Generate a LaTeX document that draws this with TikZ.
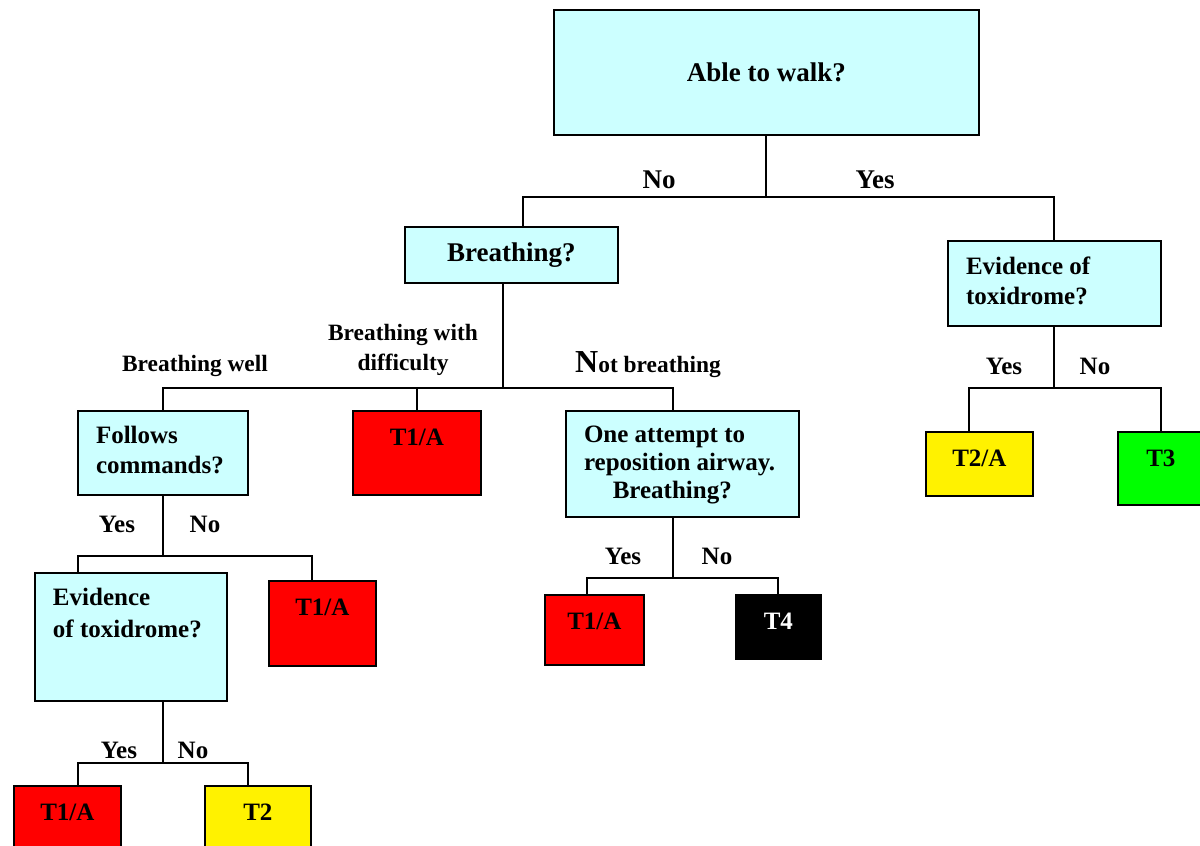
\documentclass[tikz,border=0pt]{standalone}
\usepackage{fontspec}
\setmainfont{Liberation Serif}
\usetikzlibrary{positioning}
\definecolor{paleaqua}{RGB}{204,255,255}

\begin{document}
\begin{tikzpicture}[x=0.5pt, y=-0.5pt, line width=1pt,
  box/.style={draw, line width=0.9pt, anchor=north west, inner sep=0pt},
  qbox/.style={box, fill=paleaqua},
  size/.style 2 args={minimum width=#1*0.5pt, minimum height=#2*0.5pt},
  intop/.style={anchor=north, inner sep=0pt, yshift=-8.2pt, text height=9pt, text depth=3pt, font=\bfseries\fontsize{12.5}{15}\selectfont},
  inleft/.style={anchor=north west, inner sep=0pt, xshift=9pt, yshift=-7.7pt, align=left, font=\bfseries\fontsize{12.5}{15}\selectfont},
  ans/.style={inner sep=0pt, font=\bfseries\fontsize{12.5}{15}\selectfont},
  branch/.style={inner sep=0pt, align=center, font=\bfseries\fontsize{11.7}{15}\selectfont},
]
\useasboundingbox (0,0) rectangle (1200,846);
\clip (0,0) rectangle (1200,846);
% question boxes
\node[qbox, size={425}{125}, font=\bfseries\fontsize{13.5}{16}\selectfont] (walk) at (553,9) {Able to walk?};
\node[qbox, size={213}{56}, font=\bfseries\fontsize{13.5}{16}\selectfont] (breath) at (404,226) {Breathing?};
\node[qbox, size={213}{85}, label={[inleft]north west:Evidence of\\toxidrome?}] (evidR) at (947,240) {};
\node[qbox, size={170}{84}, label={[inleft]north west:Follows\\commands?}] (follows) at (77,410) {};
\node[qbox, size={233}{106}, label={[inleft, font=\bfseries\fontsize{12.5}{14}\selectfont]north west:One attempt to\\reposition airway.\\\hspace{1.15em}Breathing?}] (attempt) at (565,410) {};
\node[qbox, size={192}{128}, label={[inleft, font=\bfseries\fontsize{12.5}{16}\selectfont]north west:Evidence\\of toxidrome?}] (evidL) at (34,572) {};
% triage boxes
\node[box, fill=red, size={128}{84}, label={[intop]north:T1/A}] (t1aMid) at (352,410) {};
\node[box, fill=red, size={107}{85}, label={[intop]north:T1/A}] (t1aL) at (268,580) {};
\node[box, fill=red, size={99}{70}, label={[intop]north:T1/A}] (t1aA) at (544,594) {};
\node[box, fill=black, size={85}{64}, label={[intop, text=white]north:T4}] (t4) at (735,594) {};
\node[box, fill=red, size={107}{80}, label={[intop]north:T1/A}] (t1aB) at (13,785) {};
\node[box, fill=yellow, size={106}{80}, label={[intop]north:T2}] (t2) at (204,785) {};
\node[box, fill=yellow, size={107}{64}, label={[intop]north:T2/A}] (t2a) at (925,431) {};
\node[box, fill=green, size={86}{73}, label={[intop]north:T3}] (t3) at (1117,431) {};
% junctions, straight below each question box
\coordinate (j0) at (walk.south |- 0,197);
\coordinate (j1) at ([xshift=-4.25pt]breath.south |- 0,388);
\coordinate (j2) at (follows.south |- 0,556);
\coordinate (j3) at ([xshift=16pt]evidL.south |- 0,763);
\coordinate (j4) at ([xshift=-4.75pt]attempt.south |- 0,578);
\coordinate (j5) at (evidR.south |- 0,388);
% connectors
\draw (walk.south) -- (j0);
\draw ([xshift=5.75pt]breath.north) |- (j0) -| (evidR.north);
\draw ([xshift=-4.25pt]breath.south) -- (j1);
\draw (follows.north) |- (j1) -| ([xshift=-4.75pt]attempt.north);
\draw (t1aMid.north) -- (t1aMid.north |- j1);
\draw (follows.south) -- (j2);
\draw ([xshift=-26.5pt]evidL.north) |- (j2) -| ([xshift=-5.25pt]t1aL.north);
\draw ([xshift=16pt]evidL.south) -- (j3);
\draw ([xshift=5.25pt]t1aB.north) |- (j3) -| ([xshift=-5pt]t2.north);
\draw ([xshift=-4.75pt]attempt.south) -- (j4);
\draw ([xshift=-3.75pt]t1aA.north) |- (j4) -| (t4.north);
\draw (evidR.south) -- (j5);
\draw ([xshift=-5.25pt]t2a.north) |- (j5) -| (t3.north);
% answer labels
\node[ans, font=\bfseries\fontsize{13.5}{16}\selectfont] (noWalk) at (659,180) {No};
\node[ans, font=\bfseries\fontsize{13.5}{16}\selectfont] (yesWalk) at (875,180) {Yes};
\node[branch] (bWell) at (195,366) {Breathing well};
\node[branch] (bDiff) at (403,350) {Breathing with\\difficulty};
\node[branch] (bNot) at (648,365) {{\fontsize{16}{16}\selectfont N}ot breathing};
\node[ans] (yesFol) at (117,524) {Yes};
\node[ans] (noFol) at (205,524) {No};
\node[ans] (yesTox) at (119,750) {Yes};
\node[ans] (noTox) at (193,750) {No};
\node[ans] (yesAir) at (623,556) {Yes};
\node[ans] (noAir) at (717,556) {No};
\node[ans] (yesToxR) at (1004,366) {Yes};
\node[ans] (noToxR) at (1095,366) {No};
\end{tikzpicture}
\end{document}
